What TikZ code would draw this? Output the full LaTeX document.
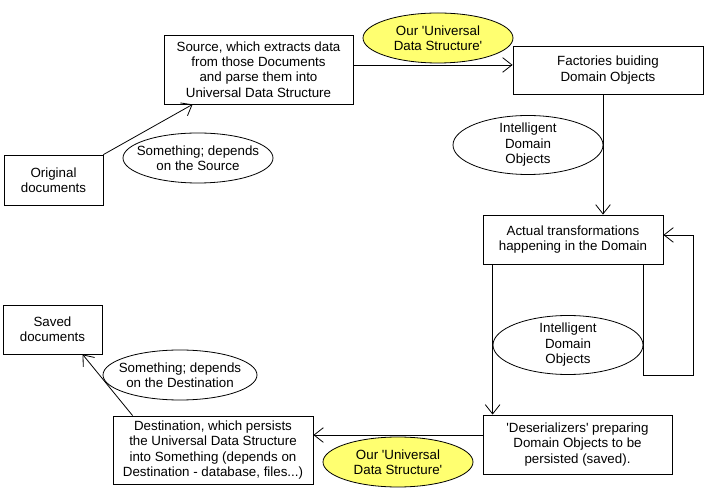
\documentclass[tikz,border=0pt]{standalone}
\usepackage{fontspec}
\setmainfont{Liberation Sans}
\usetikzlibrary{arrows.meta}
\definecolor{udsyellow}{RGB}{255,255,112}
\newcommand{\sq}{\textquotesingle}
\begin{document}
\begin{tikzpicture}[x=0.75pt,y=-0.75pt,
  every node/.style={font=\fontsize{10}{11.6}\selectfont, align=center, inner sep=0pt},
  box/.style={draw, line width=0.6pt, rectangle},
  oval/.style={draw, line width=0.6pt, fill=white},
  uds/.style={oval, fill=udsyellow},
  arr/.style={line width=0.6pt, -{Straight Barb[length=7pt,width=11pt]}}]
\useasboundingbox (0,0) rectangle (710,498);
% boxes
\node[box, minimum width=74.25pt, minimum height=37.5pt] (orig) at (53.5,180) {Original\\documents};
\node[box, minimum width=141.75pt, minimum height=51.75pt] (src) at (258.5,69.5) {Source, which extracts data\\from those Documents\\and parse them into\\Universal Data Structure};
\node[box, minimum width=142.5pt, minimum height=36pt] (fact) at (608,70) {Factories buiding\\Domain Objects};
\node[box, minimum width=135pt, minimum height=36.75pt] (act) at (573,239.5) {Actual transformations\\happening in the Domain};
\node[box, minimum width=141.75pt, minimum height=44.25pt] (deser) at (577.5,444.5) {\sq Deserializers\sq{} preparing\\Domain Objects to be\\persisted (saved).};
\node[box, minimum width=150pt, minimum height=51pt] (dest) at (213,450) {Destination, which persists\\the Universal Data Structure\\into Something (depends on\\Destination - database, files...)};
\node[box, minimum width=74.25pt, minimum height=36.75pt] (saved) at (52.5,329.5) {Saved\\documents};
% connectors
\draw[arr] (orig.north east) -- ([xshift=21.75pt]src.south west);
\draw[arr] ([yshift=3.4pt]src.east) -- ([yshift=3.4pt]src.east -| fact.west);
\draw[arr] ([xshift=-3.75pt]fact.south) -- ([xshift=-3.75pt]fact.south |- act.north);
\draw[arr] ([xshift=-15pt]act.south east) -- ++(0,111) -- ++(50,0) |- ([yshift=3.4pt]act.east);
\draw[arr] ([xshift=7.5pt]act.south west) -- ([xshift=7.5pt]act.south west |- deser.north);
\draw[arr] ([yshift=7.1pt]deser.west) -- ([yshift=7.1pt]deser.west -| dest.east);
\draw[arr] ([xshift=15pt]dest.north west) -- ([xshift=60pt]saved.south west);
% ellipses (labels on connectors)
\path[uds] (438,38) ellipse [x radius=75, y radius=25];
\node (uds1) at (438,38) {Our \sq Universal\\Data Structure\sq};
\path[oval] (198,158) ellipse [x radius=75, y radius=25];
\node (dsrc) at (198,158) {Something; depends\\on the Source};
\path[oval] (528,145) ellipse [x radius=75, y radius=29.5];
\node (ido1) at (528,145) {Intelligent\\Domain\\Objects};
\path[oval] (568,345) ellipse [x radius=75, y radius=29.5];
\node (ido2) at (568,345) {Intelligent\\Domain\\Objects};
\path[oval] (180,375) ellipse [x radius=77, y radius=25];
\node (ddest) at (180,375) {Something; depends\\on the Destination};
\path[uds] (398,462) ellipse [x radius=75, y radius=25];
\node (uds2) at (398,462) {Our \sq Universal\\Data Structure\sq};
\end{tikzpicture}
\end{document}
